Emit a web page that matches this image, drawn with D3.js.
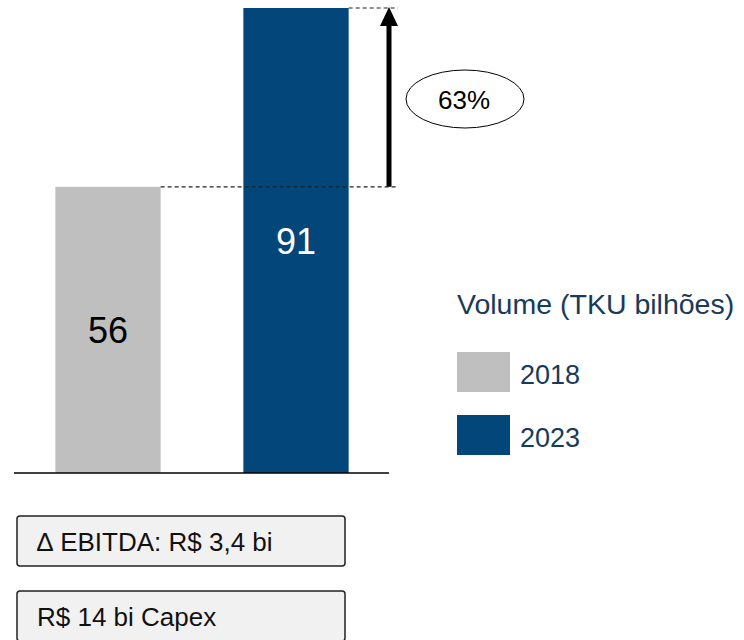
<!DOCTYPE html>
<html>
<head>
<meta charset="utf-8">
<script src="https://cdn.jsdelivr.net/npm/d3@7"></script>
<style>
  body { margin: 0; background: #fff; }
  svg { display: block; font-family: "Liberation Sans", Arial, sans-serif; }
</style>
</head>
<body>
<svg id="chart" width="744" height="640"></svg>
<script>
// chart data
const years = ["2018", "2023"];
const volumes = [56, 91];
const growthLabel = "63%";
const legendTitle = "Volume (TKU bilhões)";
const notes = ["\u2206 EBITDA: R$ 3,4 bi", "R$ 14 bi Capex"];

const colors = { "2018": "#bfbfbf", "2023": "#03467a" };

const svg = d3.select("#chart");

// scales
const x = d3.scaleBand()
  .domain(years)
  .range([14, 390])
  .paddingInner(0.44)
  .paddingOuter(0.22);

const y = d3.scaleLinear()
  .domain([0, 91])
  .range([473, 8]);

// bars
svg.selectAll("rect.bar")
  .data(years)
  .join("rect")
  .attr("class", "bar")
  .attr("x", d => x(d))
  .attr("y", (d, i) => y(volumes[i]))
  .attr("width", x.bandwidth())
  .attr("height", (d, i) => y(0) - y(volumes[i]))
  .attr("fill", d => colors[d]);

// dashed reference lines
const arrowX = 389;
svg.append("line")
  .attr("x1", x("2018") + x.bandwidth()).attr("x2", 398)
  .attr("y1", y(volumes[0])).attr("y2", y(volumes[0]))
  .attr("stroke", "#222").attr("stroke-width", 1.2)
  .attr("stroke-dasharray", "4,3");
svg.append("line")
  .attr("x1", x("2023") + x.bandwidth()).attr("x2", 398)
  .attr("y1", y(volumes[1])).attr("y2", y(volumes[1]))
  .attr("stroke", "#222").attr("stroke-width", 1.2)
  .attr("stroke-dasharray", "4,3");

// baseline
svg.append("line")
  .attr("x1", 14).attr("x2", 389)
  .attr("y1", y(0)).attr("y2", y(0))
  .attr("stroke", "#000").attr("stroke-width", 1.5);

// bar labels
svg.selectAll("text.val")
  .data(years)
  .join("text")
  .attr("class", "val")
  .attr("x", d => x(d) + x.bandwidth() / 2)
  .attr("y", (d, i) => i === 0 ? 343 : 254)
  .attr("text-anchor", "middle")
  .attr("font-size", 36)
  .attr("fill", (d, i) => i === 0 ? "#000" : "#fff")
  .text((d, i) => volumes[i]);

// growth arrow
const arrowTop = y(volumes[1]);
svg.append("line")
  .attr("x1", arrowX).attr("x2", arrowX)
  .attr("y1", y(volumes[0])).attr("y2", arrowTop + 16)
  .attr("stroke", "#000").attr("stroke-width", 5);
svg.append("path")
  .attr("d", `M${arrowX},${arrowTop - 1} L${arrowX + 9},${arrowTop + 18} L${arrowX - 9},${arrowTop + 18} Z`)
  .attr("fill", "#000");

// percentage bubble
svg.append("ellipse")
  .attr("cx", 465).attr("cy", 99)
  .attr("rx", 59).attr("ry", 29)
  .attr("fill", "#fff").attr("stroke", "#000").attr("stroke-width", 1);
svg.append("text")
  .attr("x", 464).attr("y", 109)
  .attr("text-anchor", "middle")
  .attr("font-size", 26)
  .attr("fill", "#000")
  .text(growthLabel);

// legend
const legend = svg.append("g").attr("transform", "translate(457,0)");
legend.append("text")
  .attr("x", 0).attr("y", 314)
  .attr("font-size", 28.5)
  .attr("fill", "#173b58")
  .text(legendTitle);

const items = legend.selectAll("g.item")
  .data(years)
  .join("g")
  .attr("class", "item")
  .attr("transform", (d, i) => `translate(0,${352 + i * 63})`);
items.append("rect")
  .attr("width", 53).attr("height", 40)
  .attr("fill", d => colors[d]);
items.append("text")
  .attr("x", 63).attr("y", 32)
  .attr("font-size", 27)
  .attr("fill", "#173b58")
  .text(d => d);

// note boxes
const boxes = svg.selectAll("g.note")
  .data(notes)
  .join("g")
  .attr("class", "note")
  .attr("transform", (d, i) => `translate(17,${516 + i * 75})`);
boxes.append("rect")
  .attr("width", 328).attr("height", 50)
  .attr("rx", 3)
  .attr("fill", "#f1f1f1")
  .attr("stroke", "#222").attr("stroke-width", 1.5);
boxes.append("text")
  .attr("x", 20).attr("y", 35)
  .attr("font-size", 26)
  .attr("fill", "#111")
  .text(d => d);
</script>
</body>
</html>
